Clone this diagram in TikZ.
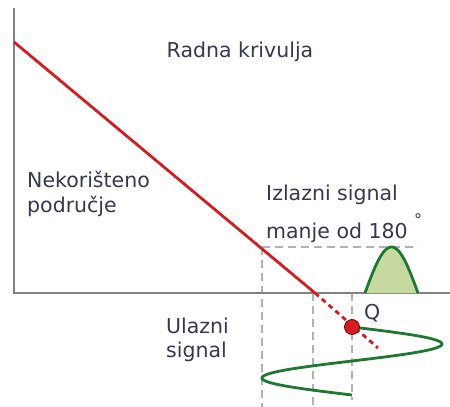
\documentclass[tikz,border=0pt]{standalone}
\usepackage{fontspec}
\setmainfont{DejaVu Sans}
\definecolor{txt}{RGB}{55,55,80}
\definecolor{axisgray}{RGB}{130,130,130}
\definecolor{loadred}{RGB}{210,30,35}
\definecolor{sigGreen}{RGB}{30,120,50}
\definecolor{sigFill}{RGB}{197,217,160}
\begin{document}
\begin{tikzpicture}[x=1pt,y=-1pt,
  lbl/.style={text=txt,font=\fontsize{20.5}{24.5}\selectfont,inner sep=0pt,anchor=west,align=left},
  axisline/.style={draw=axisgray,line width=1.8pt},
  guide/.style={draw=gray!60,line width=1.3pt,dash pattern=on 8pt off 5pt},
  load/.style={draw=loadred,line width=2.8pt},
  sig/.style={draw=sigGreen,line width=2.8pt}]
\useasboundingbox (0,0) rectangle (450,407);
% guides
\draw[guide] (262,247) -- (418,247);
\draw[guide] (262,247) -- (262,407);
\draw[guide] (313,293) -- (313,407);
\draw[guide] (352,293) -- (352,400);
% axes
\coordinate (o) at (14,293);
\coordinate (ytop) at (14,8);
\coordinate (xend) at (450,293);
\draw[axisline] (ytop) -- (o) -- (xend);
% load line
\coordinate (ls) at (14,42);
\coordinate (le) at (315,293);
\coordinate (ld) at (378,348);
\draw[load] (ls) -- (le);
\draw[load,line width=2.8pt,dash pattern=on 5pt off 4pt] (le) -- (ld);
% output signal
\fill[sigFill] plot[domain=0:180,samples=40] ({365+0.29444*\x},{293-46*sin(\x)});
\draw[sig] plot[domain=0:180,samples=40] ({365+0.29444*\x},{293-46*sin(\x)});
% input signal
\draw[sig] plot[domain=0:360,samples=80,smooth] ({352+90*sin(\x)},{327+0.18889*\x});
% Q point
\node[circle,fill=loadred,draw=red!45!black,line width=0.8pt,minimum size=15pt,inner sep=0pt] (q) at (352,327) {};
% labels
\node[lbl,anchor=center] (t1) at (240,52) {Radna krivulja};
\node[lbl] (t2) at (27,194) {Nekorišteno\\područje};
\node[lbl] (t3) at (266,195) {Izlazni signal};
\node[lbl] (t4) at (266,233) {manje od 180};
\node[lbl,font=\fontsize{16}{18}\selectfont] (t5) at (414,220) {°};
\node[lbl] (t6) at (364,313) {Q};
\node[lbl] (t7) at (166,340) {Ulazni\\signal};
\end{tikzpicture}
\end{document}
